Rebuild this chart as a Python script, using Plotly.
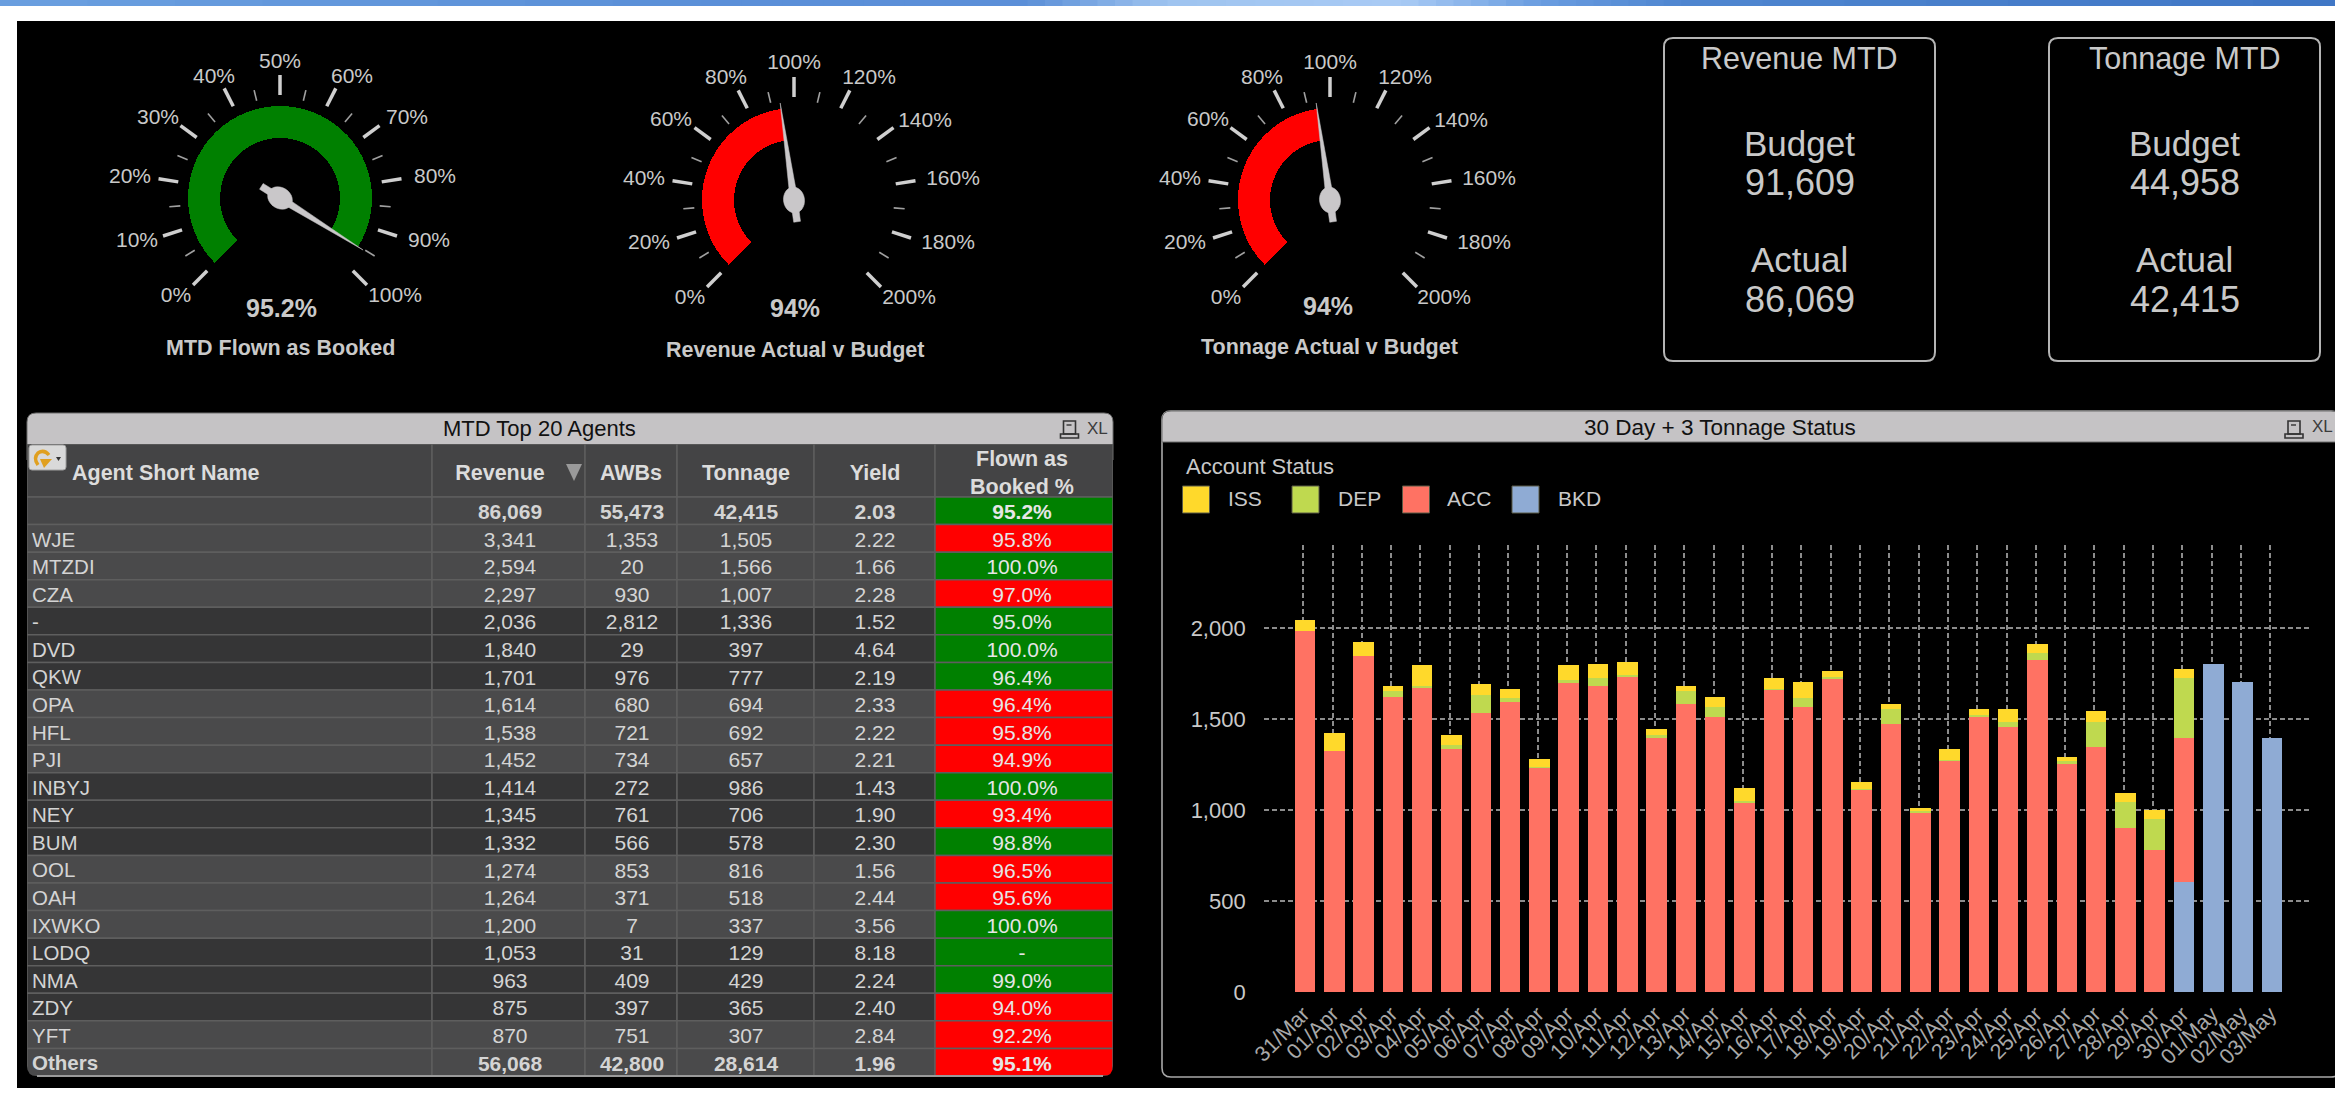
import math
import plotly.graph_objects as go

# ---------- data ----------
GAUGE_TITLES = ["MTD Flown as Booked", "Revenue Actual v Budget", "Tonnage Actual v Budget"]
GAUGE_VALUES = [95.2, 94, 94]
GAUGE_READOUT = ["95.2%", "94%", "94%"]
GAUGE_MAX = [100, 200, 200]
GAUGE_COLOR = ["#008000", "#ff0000", "#ff0000"]

KPI_TITLES = ["Revenue MTD", "Tonnage MTD"]
KPI_BUDGET = ["91,609", "44,958"]
KPI_ACTUAL = ["86,069", "42,415"]

AGENTS = ["", "WJE", "MTZDI", "CZA", "-", "DVD", "QKW", "OPA", "HFL", "PJI", "INBYJ", "NEY", "BUM",
          "OOL", "OAH", "IXWKO", "LODQ", "NMA", "ZDY", "YFT", "Others"]
REVENUE = ["86,069", "3,341", "2,594", "2,297", "2,036", "1,840", "1,701", "1,614", "1,538", "1,452", "1,414",
           "1,345", "1,332", "1,274", "1,264", "1,200", "1,053", "963", "875", "870", "56,068"]
AWBS = ["55,473", "1,353", "20", "930", "2,812", "29", "976", "680", "721", "734", "272",
        "761", "566", "853", "371", "7", "31", "409", "397", "751", "42,800"]
TONNAGE = ["42,415", "1,505", "1,566", "1,007", "1,336", "397", "777", "694", "692", "657", "986",
           "706", "578", "816", "518", "337", "129", "429", "365", "307", "28,614"]
YIELD = ["2.03", "2.22", "1.66", "2.28", "1.52", "4.64", "2.19", "2.33", "2.22", "2.21", "1.43",
         "1.90", "2.30", "1.56", "2.44", "3.56", "8.18", "2.24", "2.40", "2.84", "1.96"]
FLOWN = ["95.2%", "95.8%", "100.0%", "97.0%", "95.0%", "100.0%", "96.4%", "96.4%", "95.8%", "94.9%", "100.0%",
         "93.4%", "98.8%", "96.5%", "95.6%", "100.0%", "-", "99.0%", "94.0%", "92.2%", "95.1%"]
FLOWN_OK = [1, 0, 1, 0, 1, 1, 1, 0, 0, 0, 1, 0, 1, 0, 0, 1, 1, 1, 0, 0, 0]
HEADERS = ["Agent Short Name", "Revenue", "AWBs", "Tonnage", "Yield", "Flown as<br>Booked %"]

DATES = ["31/Mar"] + [f"{d:02d}/Apr" for d in range(1, 31)] + ["01/May", "02/May", "03/May"]
BKD = [0] * 30 + [605, 1805, 1705, 1395]
ACC = [1985, 1324, 1845, 1625, 1676, 1335, 1535, 1596, 1235, 1705, 1685, 1736, 1404, 1585, 1515, 1044, 1665,
       1565, 1725, 1115, 1475, 984, 1273, 1515, 1455, 1825, 1253, 1346, 903, 783, 790, 0, 0, 0]
DEP = [0, 0, 0, 31, 9, 22, 101, 20, 2, 9, 40, 9, 9, 71, 50, 9, 2,
       51, 9, 2, 81, 13, 2, 8, 30, 40, 20, 139, 141, 171, 330, 0, 0, 0]
ISS = [61, 100, 80, 29, 111, 56, 58, 49, 47, 82, 80, 69, 31, 29, 60, 71, 60,
       89, 31, 38, 29, 18, 60, 33, 71, 51, 22, 60, 51, 50, 49, 0, 0, 0]
SERIES = [("BKD", BKD, "#8fabd4"), ("ACC", ACC, "#ff7263"), ("DEP", DEP, "#bfd94f"), ("ISS", ISS, "#ffd92b")]
LEGEND_ORDER = ["ISS", "DEP", "ACC", "BKD"]
YTICKS = [0, 500, 1000, 1500, 2000]

# ---------- layout constants (pixels of the 2335x1099 page) ----------
W, H = 2335, 1099
FONT = "Liberation Sans"
TXT = "#c9c9c9"
GAUGE_CENTERS = [(280, 198), (794, 200), (1330, 200)]
READOUT_POS = [(281, 308), (795, 308), (1328, 306)]
TITLE_POS = [(280, 348), (795, 350), (1329, 347)]
# where each tick label sits relative to the hub, in pixels
LABEL_OFFSETS = [
    [(-104, 99), (-143, 44), (-150, -20), (-122, -79), (-66, -120), (0, -135),
     (72, -120), (127, -79), (155, -20), (149, 44), (115, 99)],
    [(-104, 99), (-145, 44), (-150, -20), (-123, -79), (-68, -121), (0, -136),
     (75, -121), (131, -78), (159, -20), (154, 44), (115, 99)],
    [(-104, 99), (-145, 44), (-150, -20), (-122, -79), (-68, -121), (0, -136),
     (75, -121), (131, -78), (159, -20), (154, 44), (114, 99)],
]
POLAR_R = 170
COL_EDGES = [27, 432, 585, 677, 814, 935, 1113]
COL_TEXT = [None, 510, 632, 746, 875, 1022]
TABLE_TOP, TABLE_BOTTOM = 444, 1076
HEADER_ROWS = 53 / 27.56
TEXT_SHIFT = 0.11   # table text sits a little under the row centre

fig = go.Figure()
shapes, annos = [], []


def rect(x0, y0, x1, y1, fill, line=None, lw=0, layer="below", xref="x", yref="y"):
    shapes.append(dict(type="rect", x0=x0, y0=y0, x1=x1, y1=y1, fillcolor=fill, layer=layer, xref=xref, yref=yref,
                       line=dict(color=line or fill, width=lw)))


def path(d, fill=None, line="rgba(0,0,0,0)", lw=0, layer="below"):
    shapes.append(dict(type="path", path=d, fillcolor=fill or "rgba(0,0,0,0)", layer=layer, xref="x", yref="y",
                       line=dict(color=line, width=lw)))


def note(x, y, text, size, color=TXT, family=FONT, **kw):
    annos.append(dict(x=x, y=y, xref="x", yref="y", text=text, showarrow=False, xanchor=kw.pop("xanchor", "center"),
                      yanchor="middle", font=dict(family=family, size=size, color=color), **kw))


def rounded(x0, y0, x1, y1, r, top=True, bottom=True):
    rt, rb = (r if top else 0), (r if bottom else 0)
    return (f"M{x0+rt},{y0} L{x1-rt},{y0} Q{x1},{y0} {x1},{y0+rt} L{x1},{y1-rb} Q{x1},{y1} {x1-rb},{y1} "
            f"L{x0+rb},{y1} Q{x0},{y1} {x0},{y1-rb} L{x0},{y0+rt} Q{x0},{y0} {x0+rt},{y0} Z")


# ---------- page background ----------
rect(0, 0, W, H, "#ffffff")
stops = [(0, (107, 159, 224)), (.3, (90, 143, 216)), (.44, (92, 144, 216)), (.5, (159, 196, 240)), (.6, (169, 203, 245)),
         (.66, (106, 157, 224)), (.72, (79, 134, 208)), (1, (63, 118, 198))]
for i in range(len(stops) - 1):
    (a, ca), (b, cb) = stops[i], stops[i + 1]
    for k in range(8):
        t = (k + .5) / 8
        c = tuple(int(ca[j] + (cb[j] - ca[j]) * t) for j in range(3))
        rect(W * (a + (b - a) * k / 8), 0, W * (a + (b - a) * (k + 1) / 8) + 1, 6, f"rgb{c}")
rect(17, 21, W, 1088, "#000000")

# ---------- KPI boxes ----------
for x0, title, bud, act in zip([1664, 2049], KPI_TITLES, KPI_BUDGET, KPI_ACTUAL):
    x1, cx = x0 + 271, x0 + 135.5
    path(rounded(x0, 38, x1, 361, 9), line="#b4b4b4", lw=2)
    note(cx, 58, title, 30.5)
    note(cx, 143, "Budget", 35)
    note(cx, 182, bud, 36)
    note(cx, 259, "Actual", 35)
    note(cx, 299, act, 36)


# ---------- gauges (polar subplots; radial unit = one pixel) ----------
def ang(v, vmax):
    return -135 + 270 * v / vmax


for g, (title, val, readout, vmax, col, (cx, cy)) in enumerate(
        zip(GAUGE_TITLES, GAUGE_VALUES, GAUGE_READOUT, GAUGE_MAX, GAUGE_COLOR, GAUGE_CENTERS)):
    sp = f"polar{g + 1 if g else ''}"
    step = vmax / 10
    fig.add_trace(go.Barpolar(r=[32], base=[60], theta=[ang(val / 2, vmax)], width=[270 * val / vmax],
                              marker=dict(color=col, line=dict(width=0)), subplot=sp, showlegend=False,
                              hoverinfo="skip"))
    mr, mt, nr, nt = [], [], [], []
    lab, lr, lt = [], [], []
    for k in range(11):
        v = k * step
        th = ang(v, vmax)
        mr += [103, 123, None]
        mt += [th, th, None]
        dx, dy = LABEL_OFFSETS[g][k]
        lab.append(f"{int(v)}%")
        lr.append(math.hypot(dx, dy))
        lt.append(math.degrees(math.atan2(dx, -dy)))
        if k < 10:
            thm = ang(v + step / 2, vmax)
            nr += [100, 111, None]
            nt += [thm, thm, None]
    fig.add_trace(go.Scatterpolar(r=mr, theta=mt, mode="lines", line=dict(color="#cfcfcf", width=3.5), subplot=sp,
                                  showlegend=False, hoverinfo="skip", connectgaps=False, cliponaxis=False))
    fig.add_trace(go.Scatterpolar(r=nr, theta=nt, mode="lines", line=dict(color="#a0a0a0", width=1.6), subplot=sp,
                                  showlegend=False, hoverinfo="skip", connectgaps=False, cliponaxis=False))
    fig.add_trace(go.Scatterpolar(r=lr, theta=lt, text=lab, mode="text", subplot=sp, showlegend=False,
                                  hoverinfo="skip", cliponaxis=False, textposition="middle center",
                                  textfont=dict(family=FONT, size=21, color=TXT)))
    # needle: tapered blade, tail and hub, all turned to the gauge value
    th0 = ang(val, vmax)
    blade = [(98, 0), (6, 3.6), (-22, 3.4), (-22, -3.4), (6, -3.6), (98, 0)]
    t = [i * 2 * math.pi / 28 for i in range(29)]
    hub = [(13 * math.cos(a), 10.5 * math.sin(a)) for a in t]
    for poly in (blade, hub):
        pr = [math.hypot(d, w) for d, w in poly]
        pt = [th0 + math.degrees(math.atan2(w, d)) for d, w in poly]
        fig.add_trace(go.Scatterpolar(r=pr, theta=pt, mode="lines", fill="toself", fillcolor="#c9c7c9",
                                      line=dict(color="#c9c7c9", width=0.5), subplot=sp, showlegend=False,
                                      hoverinfo="skip"))
    note(READOUT_POS[g][0], READOUT_POS[g][1], f"<b>{readout}</b>", 25)
    note(TITLE_POS[g][0], TITLE_POS[g][1], f"<b>{title}</b>", 21.5)
    polar = dict(domain=dict(x=[(cx - POLAR_R) / W, (cx + POLAR_R) / W],
                             y=[1 - (cy + POLAR_R) / H, 1 - (cy - POLAR_R) / H]),
                 bgcolor="rgba(0,0,0,0)", barmode="overlay",
                 radialaxis=dict(range=[0, POLAR_R], visible=False),
                 angularaxis=dict(visible=False, rotation=90, direction="clockwise", thetaunit="degrees"))
    fig.update_layout(**{sp: polar})

# ---------- panel 1: table ----------
path(rounded(27, 413, 1113, 460, 9, bottom=False), fill="#c5c3c5", line="#6e6e6e", lw=1)
note(539, 428.5, "MTD Top 20 Agents", 22, color="#111111")
n_rows = len(AGENTS)
for c in range(6):
    rect(COL_EDGES[c], -HEADER_ROWS - .5, COL_EDGES[c + 1], -.5, "#444445", "#5e5e5e", 1.5, xref="x3", yref="y3")
bands = ["#474748"] + [("#4a4a4b" if ((i // 3) % 2 == 0) else "#353536") for i in range(n_rows - 1)]
for r in range(n_rows):
    for c in range(6):
        fill = bands[r]
        if c == 5:
            fill = "#008000" if FLOWN_OK[r] else "#ff0000"
        rect(COL_EDGES[c], r - .5, COL_EDGES[c + 1], r + .5, fill, "#5e5e5e", 1.5, xref="x3", yref="y3")

row_y = [r + TEXT_SHIFT for r in range(n_rows)]
for col_vals, cx_, col_idx in zip([REVENUE, AWBS, TONNAGE, YIELD, FLOWN], COL_TEXT[1:], range(1, 6)):
    fig.add_trace(go.Scatter(
        x=[cx_] * n_rows, y=row_y, xaxis="x3", yaxis="y3", mode="text", showlegend=False,
        hoverinfo="skip", cliponaxis=False,
        text=[f"<b>{v}</b>" if i in (0, n_rows - 1) else v for i, v in enumerate(col_vals)],
        textfont=dict(family=FONT, size=21, color="#e6e6e6" if col_idx == 5 else "#d4d4d4")))
fig.add_trace(go.Scatter(
    x=[32] * n_rows, y=row_y, xaxis="x3", yaxis="y3", mode="text", showlegend=False,
    hoverinfo="skip", cliponaxis=False, textposition="middle right",
    text=[f"<b>{v}</b>" if i == n_rows - 1 else v for i, v in enumerate(AGENTS)],
    textfont=dict(family=FONT, size=20.5, color="#d4d4d4")))
header_x = [72, 500, 631, 746, 875, 1022]
header_y = -.5 - HEADER_ROWS / 2 + 0.14
for i, (hx, ht) in enumerate(zip(header_x, HEADERS)):
    fig.add_trace(go.Scatter(
        x=[hx], y=[header_y], xaxis="x3", yaxis="y3", mode="text", showlegend=False, hoverinfo="skip",
        cliponaxis=False, text=[f"<b>{ht.replace('<br>', '</b><br><b>')}</b>"],
        textposition="middle right" if i == 0 else "middle center",
        textfont=dict(family=FONT, size=21.5, color="#dcdcdc")))
# corners of the panel, sort arrow, refresh button, printer and XL marks
path("M27,1066 Q27,1076 37,1076 L27,1076 Z", fill="#000000", layer="above")
path("M1113,1066 Q1113,1076 1103,1076 L1113,1076 Z", fill="#000000", layer="above")
path(f"M37,1076 L1103,1076", line="#9a9a9a", lw=2, layer="above")
path("M566,464 L582,464 L574,481 Z", fill="#9a9a9a", layer="above")
path(rounded(29, 445, 66, 470, 3), fill="#d9d9d9", line="#a0a0a0", lw=1, layer="above")
path("M38,465 Q33,458 38,453 Q44,449 49,455", line="#e0a020", lw=3.5, layer="above")
path("M44,468 L52,459 L40,459 Z", fill="#e0a020", layer="above")
path("M56,457 L61,457 L58.5,461 Z", fill="#333333", layer="above")
for ix, xlx in ((1060.5, 1097), (2285, 2322)):
    path(f"M{ix+3},421 L{ix+15},421 L{ix+15},434 L{ix+3},434 Z", line="#333333", lw=1.6, layer="above")
    path(f"M{ix},434 L{ix+18},434 L{ix+18},438 L{ix},438 Z", line="#333333", lw=1.6, layer="above")
    path(f"M{ix+6},425 L{ix+11},425", line="#333333", lw=1.4, layer="above")
    note(xlx, 428 if ix < 2000 else 426, "XL", 17, color="#3c3c3c")

# ---------- panel 2: stacked bars ----------
path(rounded(1162, 411, 2340, 1077, 9), line="#a8a8a8", lw=1.6)
path(rounded(1162, 411, 2340, 442, 9, bottom=False), fill="#c5c3c5", line="#6e6e6e", lw=1)
note(1720, 427, "30 Day + 3 Tonnage Status", 22.5, color="#111111")
note(1184, 466, "Account Status", 22, xanchor="left")
for name, sx, lx in zip(LEGEND_ORDER, [1182.5, 1292, 1402.5, 1512], [1226, 1336, 1445, 1556]):
    col = dict((n, c) for n, _, c in SERIES)[name]
    rect(sx, 486, sx + 27, 513, col, "#5a5a46", 1)
    note(lx, 498, name, 21, xanchor="left")

for name, vals, col in SERIES:
    fig.add_trace(go.Bar(x=DATES, y=vals, name=name, xaxis="x2", yaxis="y2", width=.7, offset=-.292,
                         marker=dict(color=col, line=dict(width=0)), showlegend=False, hoverinfo="skip"))

# base overlay axes must exist first so page shapes sit behind everything
fig.add_trace(go.Scatter(x=[0], y=[0], xaxis="x", yaxis="y", mode="markers", marker=dict(opacity=0, size=1),
                         showlegend=False, hoverinfo="skip"))

hidden = dict(visible=False, fixedrange=True, showgrid=False, zeroline=False, automargin=False)
GRID = "#8c8c8c"
fig.update_layout(
    template="none",
    width=W, height=H, margin=dict(l=0, r=0, t=0, b=0, pad=0), autosize=False,
    paper_bgcolor="#ffffff", plot_bgcolor="rgba(0,0,0,0)", barmode="stack",
    showlegend=False, font=dict(family=FONT, color=TXT),
    xaxis=dict(range=[0, W], domain=[0, 1], anchor="y", **hidden),
    yaxis=dict(range=[H, 0], domain=[0, 1], anchor="x", **hidden),
    xaxis2=dict(domain=[1263.7 / W, 2311 / W], anchor="y2", type="category", categoryorder="array",
                categoryarray=DATES, range=[-1.35, 34.39], tickmode="array", tickvals=DATES, ticktext=DATES,
                tickangle=-45, tickfont=dict(family=FONT, size=21.5, color="#a8a8a8"), ticks="", ticklabelstandoff=4,
                showgrid=True, gridcolor=GRID, gridwidth=1.5, griddash="5px,3px", zeroline=False, showline=False,
                fixedrange=True, automargin=False),
    yaxis2=dict(domain=[1 - 992.3 / H, 1 - 544.7 / H], anchor="x2", range=[0, 2459], tickmode="array",
                tickvals=YTICKS, ticktext=[f"{v:,}" for v in YTICKS], tickfont=dict(family=FONT, size=22, color=TXT),
                ticks="", ticklabelstandoff=17, showgrid=True, gridcolor=GRID, gridwidth=1.5, griddash="5px,3px",
                zeroline=False, showline=False, fixedrange=True, automargin=False),
    xaxis3=dict(range=[27, 1113], domain=[27 / W, 1113 / W], anchor="y3", **hidden),
    yaxis3=dict(range=[n_rows - .5, -.5 - HEADER_ROWS], domain=[1 - TABLE_BOTTOM / H, 1 - TABLE_TOP / H], anchor="x3",
                **hidden),
    shapes=shapes, annotations=annos,
)

# keep the base axes first in the drawing order
traces = list(fig.data)
fig.data = [traces[-1]] + traces[:-1]

fig.write_html("out.html", config=dict(displayModeBar=False, responsive=False),
               post_script="document.body.style.margin='0';document.documentElement.style.overflow='hidden';")
